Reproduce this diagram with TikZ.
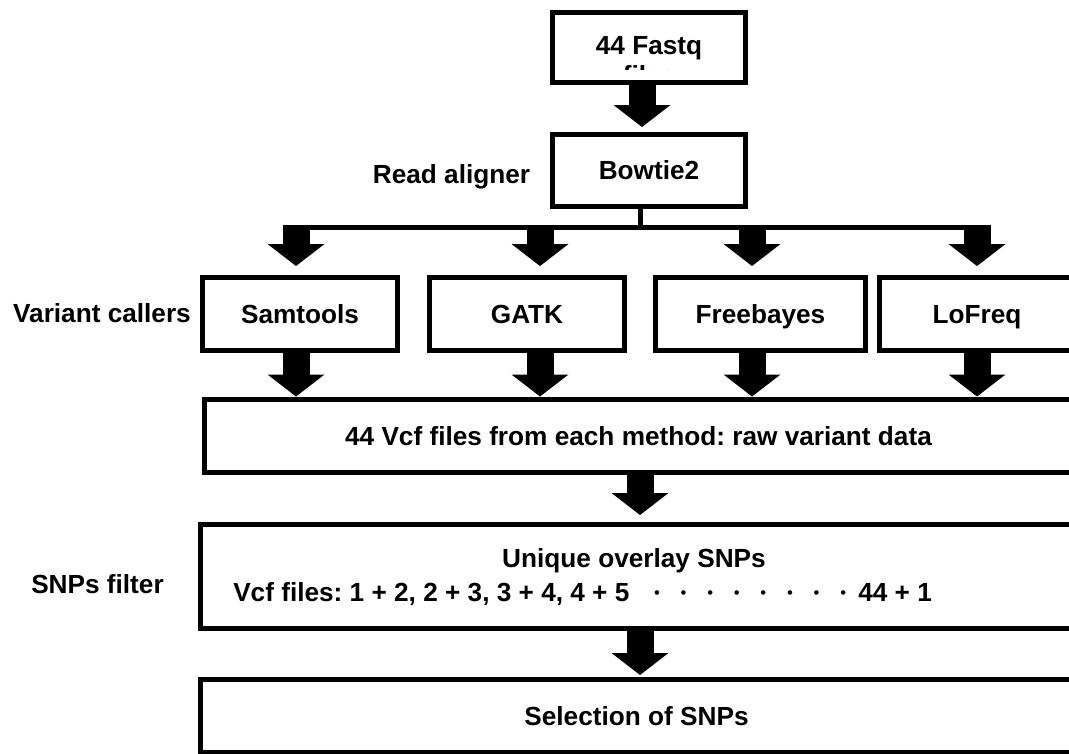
\documentclass[tikz,border=0pt]{standalone}
\usepackage{fontspec}
\setmainfont{Liberation Sans}
\usetikzlibrary{arrows.meta,positioning}
\frenchspacing

\begin{document}
\begin{tikzpicture}[x=0.75pt, y=-0.75pt, every node/.style={font=\fontsize{19.65pt}{22.5pt}\selectfont\bfseries, inner sep=0pt}]
  \tikzstyle{stage}=[draw, line width=3.75pt, minimum height=54.75pt, text depth=0pt]
  \tikzstyle{fat}=[line width=20.25pt, -{Triangle[width=42.75pt, length=16.5pt, line width=0pt]}]
  \tikzstyle{bus}=[line width=3.75pt]
  \useasboundingbox (0,0) rectangle (1069,753);
  \clip (0,0) rectangle (1069,753);
  % input and aligner
  \node[stage, minimum width=144.75pt, minimum height=52.5pt] (fastq) at (649,47.5) {};
  \node[anchor=base] (fastqtxt) at (649,54) {44 Fastq};
  \begin{scope}
    \clip (550,10) rectangle (748,69.5);
    \node[anchor=base] (fastqcut) at (649,84) {files};
  \end{scope}
  \node[stage, minimum width=144.75pt, minimum height=54pt] (bowtie) at (649,170.5) {Bowtie2};
  \node[anchor=base] (aligner) at (451.5,183) {Read aligner};
  % variant callers
  \node[stage, minimum width=146.25pt] (samtools) at (300,314) {Samtools};
  \node[stage, minimum width=146.25pt, right=20.25pt of samtools] (gatk) {GATK};
  \node[stage, minimum width=157.5pt, right=19.5pt of gatk] (freebayes) {Freebayes};
  \node[stage, minimum width=146.25pt, right=6.75pt of freebayes] (lofreq) {LoFreq};
  \node[anchor=base] (callers) at (102,322) {Variant callers};
  % raw calls, filter and selection
  \node[stage, minimum width=651pt] (rawvcf) at (638.5,435.5) {44 Vcf files from each method: raw variant data};
  \node[stage, minimum width=654pt, minimum height=78pt] (filter) at (636.5,576.5) {};
  \node[anchor=base] (overlay) at (634,567) {Unique overlay SNPs};
  \node[anchor=base west] (pairs) at (233,601) {Vcf files: 1 + 2, 2 + 3, 3 + 4, 4 + 5};
  \foreach \k in {0,...,7}
    \node[anchor=base, font=\fontsize{12.5pt}{12.5pt}\selectfont] (dot\k) at (657+26.6*\k,598) {•};
  \node[anchor=base west] (lastpair) at (858,601) {44 + 1};
  \node[anchor=base] (filterlbl) at (97.5,593) {SNPs filter};
  \node[stage, minimum width=654pt] (select) at (636.5,716) {Selection of SNPs};
  % arrows
  \draw[fat, shorten >=3.75pt] ([xshift=-5.25pt]fastq.south) -- ([xshift=-5.25pt]bowtie.north);
  \coordinate (bus0) at (640,227.5);
  \foreach \c/\x in {a/296, b/540, c/752, d/977}
    \coordinate (bus\c) at (\x,227.5);
  \draw[bus] (bus0 |- bowtie.south) -- (bus0);
  \draw[bus, shorten <=-10.125pt, shorten >=-10.125pt] (busa) -- (busd);
  \foreach \c/\n in {a/samtools, b/gatk, c/freebayes, d/lofreq} {
    \draw[fat, shorten >=6.75pt] (bus\c) -- (bus\c |- \n.north);
    \draw[fat] (bus\c |- \n.south) -- (bus\c |- rawvcf.north);
  }
  \draw[fat, shorten >=5.25pt] (bus0 |- rawvcf.south) -- (bus0 |- filter.north);
  \draw[fat, shorten >=1.5pt] (bus0 |- filter.south) -- (bus0 |- select.north);
\end{tikzpicture}
\end{document}
